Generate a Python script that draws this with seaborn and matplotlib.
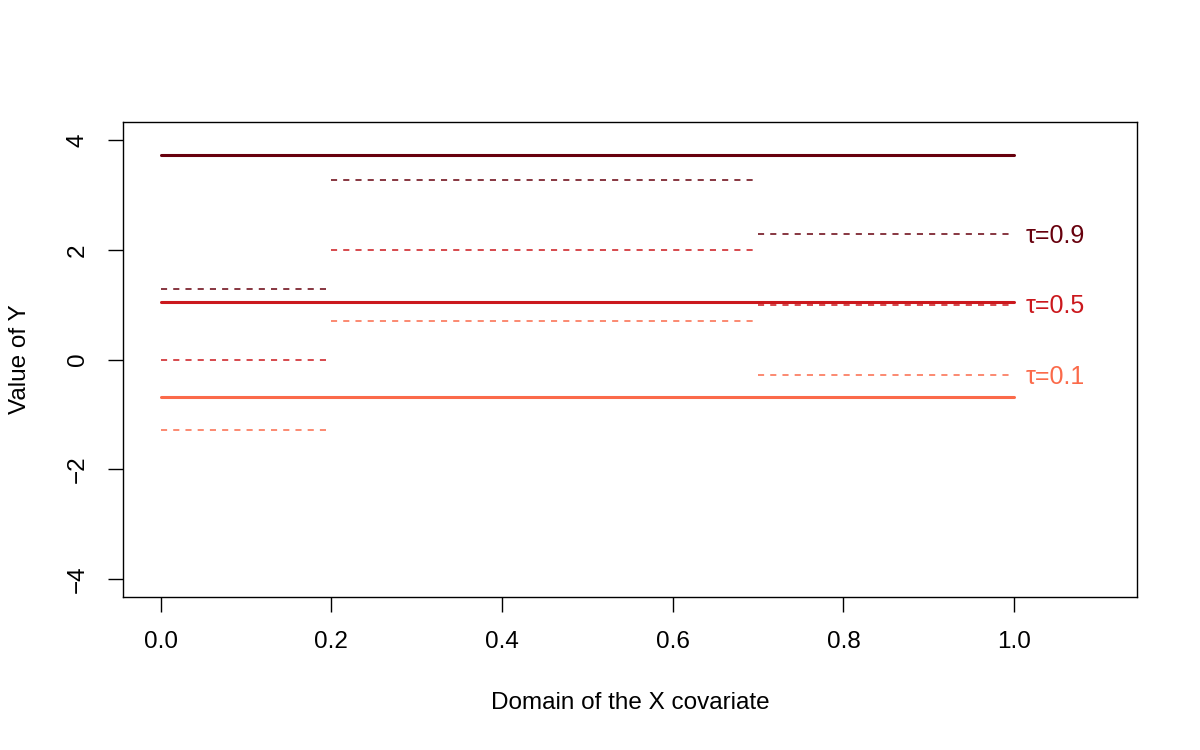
import matplotlib
matplotlib.use("Agg")
import matplotlib.pyplot as plt
import seaborn as sns
import pandas as pd

sns.set_style("white")
plt.rcParams['font.family'] = ['Liberation Sans', 'DejaVu Sans']
plt.rcParams['text.color'] = 'black'
plt.rcParams['axes.labelcolor'] = 'black'
plt.rcParams['xtick.color'] = 'black'
plt.rcParams['ytick.color'] = 'black'

taus = ["0.1", "0.5", "0.9"]
colors = ["#fb6a4a", "#cb181d", "#67000d"]
# overall (solid) quantile lines over [0, 1]
overall = [-0.69, 1.04, 3.72]
# piecewise (dashed) quantile segments
seg_starts = [0.0, 0.2, 0.7]
seg_ends = [0.2, 0.7, 1.0]
seg_vals = {
    "0.1": [-1.29, 0.71, -0.29],
    "0.5": [0.0, 1.99, 1.00],
    "0.9": [1.28, 3.27, 2.28],
}
label_y = [-0.32, 0.97, 2.26]

fig = plt.figure(figsize=(12, 7.5), dpi=100)
ax = fig.add_axes([0.1025, 0.204, 0.845, 0.6333])

for tau, col, ov in zip(taus, colors, overall):
    for s, e, v in zip(seg_starts, seg_ends, seg_vals[tau]):
        df = pd.DataFrame({"x": [s, e], "y": [v, v]})
        sns.lineplot(data=df, x="x", y="y", ax=ax, color=col, lw=1.1,
                     dashes=False, linestyle=(0, (4, 4)))
    df = pd.DataFrame({"x": [0.0, 1.0], "y": [ov, ov]})
    sns.lineplot(data=df, x="x", y="y", ax=ax, color=col, lw=2.2)

for tau, col, ly in zip(taus, colors, label_y):
    ax.text(1.013, ly, "τ=" + tau, color=col, fontsize=18, ha="left", va="center")

ax.set_xlim(-0.044, 1.144)
ax.set_ylim(-4.33, 4.33)
ax.set_xticks([0.0, 0.2, 0.4, 0.6, 0.8, 1.0])
ax.set_xticklabels(["0.0", "0.2", "0.4", "0.6", "0.8", "1.0"])
ax.set_yticks([-4, -2, 0, 2, 4])
ax.set_yticklabels(["\u22124", "\u22122", "0", "2", "4"], rotation=90, va="center")
ax.tick_params(axis="both", direction="out", length=10.5, width=1, labelsize=17.5,
               pad=14, color="black", left=True, bottom=True)
for sp in ax.spines.values():
    sp.set_color("black")
    sp.set_linewidth(1)
ax.set_xlabel("Domain of the X covariate", fontsize=17.5, va="center")
ax.set_ylabel("Value of Y", fontsize=17.5, va="center")
ax.xaxis.set_label_coords(0.5, -0.223)
ax.yaxis.set_label_coords(-0.1016, 0.5)

fig.savefig("out.png", dpi=100)
